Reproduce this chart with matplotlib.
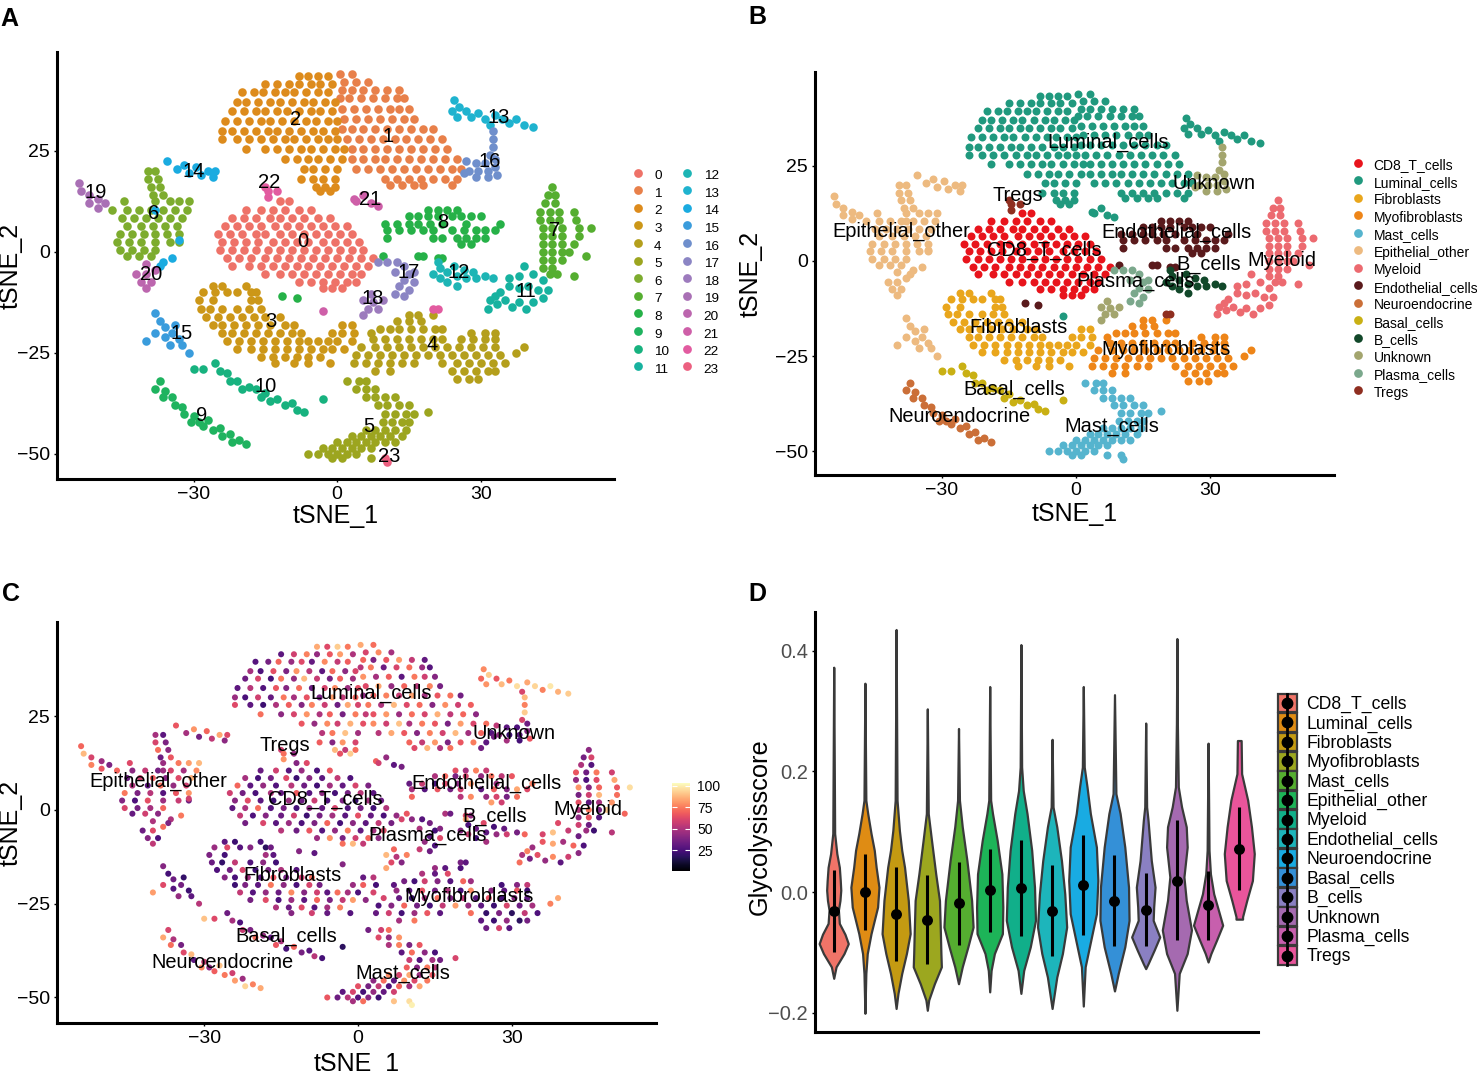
#!/usr/bin/env python3
"""tSNE panels (clusters, cell types, glycolysis score) and glycolysis violins."""
import numpy as np
import matplotlib
matplotlib.use("Agg")
import matplotlib.pyplot as plt
from matplotlib.legend_handler import HandlerBase
from matplotlib.lines import Line2D
from matplotlib.patches import Patch, Rectangle

plt.rcParams['font.family'] = ['Liberation Sans', 'DejaVu Sans']

W, H = 1477, 1074

# cells, one list per cluster, as x, y, score
cl_0 = [-12,12.5,40, -10,12.5,62,
    -19,10.5,33, -16,10.5,58, -13.5,10.5,28, -11,10.5,45, -8,10.5,25, -5.5,10.5,66,
    -22,8.5,48, -19.5,8.5,24, -17,8.5,36, -14,8.5,62, -12,8.5,22, -9.5,8.5,41, -7,8.5,30, -4,8.5,55, -1.5,8.5,26,
    -23.5,6.5,70, -21,6.5,30, -18.5,6.5,44, -16,6.5,27, -13,6.5,52, -10.5,6.5,34, -8,6.5,23, -5.5,6.5,47, -3,6.5,31, -0.5,6.5,60, 2,6.5,38,
    -25,4.5,58, -22.5,4.5,35, -20,4.5,25, -17,4.5,50, -15,4.5,32, -12,4.5,68, -9.5,4.5,28, -7,4.5,42, -4.5,4.5,24, -2,4.5,36, 0.5,4.5,53, 3,4.5,29,
    -24,2.5,41, -21.5,2.5,63, -19,2.5,30, -16.5,2.5,22, -13.5,2.5,46, -11,2.5,34, -8.5,2.5,57, -6,2.5,26, -3,2.5,38, -0.5,2.5,21, 2,2.5,48, 4.5,2.5,33,
    -24.5,0.5,30, -22,0.5,49, -19.5,0.5,72, -17,0.5,28, -14.5,0.5,37, -12,0.5,24, -9.5,0.5,43, -7,0.5,31, -4.5,0.5,60, -2,0.5,27, 0.5,0.5,35, 3,0.5,23, 5.5,0.5,51,
    -23,-1.5,55, -20.5,-1.5,26, -18,-1.5,40, -15,-1.5,33, -12.5,-1.5,58, -10,-1.5,22, -7.5,-1.5,36, -5,-1.5,47, -2.5,-1.5,29, 0,-1.5,64, 2.5,-1.5,32, 5,-1.5,25, 7.5,-1.5,44,
    -22,-3.5,35, -18.5,-3.5,61, -16,-3.5,29, -13.5,-3.5,45, -11,-3.5,26, -8.5,-3.5,38, -6,-3.5,70, -3.5,-3.5,24, -1,-3.5,41, 1.5,-3.5,30, 4,-3.5,55, 6.5,-3.5,36,
    -15,-5.5,52, -12,-5.5,34, -9.5,-5.5,66, -7,-5.5,28, -4.5,-5.5,43, -2,-5.5,75, 0.5,-5.5,31, 3,-5.5,48, 5,-5.5,63,
    -8,-7.5,46, -5.5,-7.5,80, -3,-7.5,37, -0.5,-7.5,58, 2,-7.5,70, 4,-7.5,42,
    -3,-9,72, -1,-9,88, 1,-9,55]
cl_1 = [0.5,44,85, 3,44,72,
    1.5,42,60, 4,42,78, 6.5,42,48,
    1,40,70, 3,40,38, 5.5,40,66, 8,40,82, 10.5,40,55, 13,40,31,
    0.5,38,52, 2.5,38,75, 5,38,34, 7.5,38,60, 10,38,72, 12.5,38,45, 14,38,28,
    1,35.5,80, 3.5,35.5,48, 6,35.5,68, 8.5,35.5,30, 11,35.5,74, 13,35.5,58, 15,35.5,40,
    1.5,33,62, 4,33,84, 6.5,33,44, 9,33,70, 11.5,33,52, 14,33,77, 16,33,36,
    1,30.5,42, 3,30.5,69, 5.5,30.5,76, 8,30.5,56, 10.5,30.5,83, 13,30.5,47, 15.5,30.5,66, 18,30.5,73, 20,30.5,35,
    2,28,74, 4.5,28,50, 7,28,88, 9.5,28,62, 12,28,71, 14.5,28,40, 17,28,79, 19.5,28,58, 22,28,68,
    3,25.5,65, 5.5,25.5,81, 8,25.5,46, 10.5,25.5,72, 13,25.5,60, 15.5,25.5,86, 18,25.5,54, 20.5,25.5,70, 23,25.5,42,
    3,23,78, 5.5,23,58, 8,23,90, 10,23,49, 12.5,23,75, 15,23,66, 17.5,23,37, 20,23,82, 22.5,23,61, 25,23,72,
    4,20.5,52, 6.5,20.5,84, 9,20.5,67, 11.5,20.5,40, 14,20.5,76, 16.5,20.5,59, 19,20.5,88, 21.5,20.5,47, 24,20.5,70, 26,20.5,28,
    10,18,70, 12.5,18,55, 15,18,81, 17.5,18,38, 20,18,66, 22.5,18,75, 25,18,30,
    11,16.5,62, 13.5,16.5,87, 16,16.5,50, 18,16.5,73, 24,16.5,35]
cl_2 = [-8,43.5,85, -6,43.5,62, -4,43.5,92, -2,43.5,74,
    -15,41.5,30, -12.5,41.5,58, -10,41.5,76, -8,41.5,44, -5.5,41.5,66, -3.5,41.5,82, -1,41.5,50,
    -20,39.5,28, -17.5,39.5,36, -15.5,39.5,70, -13,39.5,45, -11,39.5,62, -9,39.5,32, -6.5,39.5,78, -4,39.5,55, -2,39.5,68,
    -21,37,48, -19,37,26, -16.5,37,64, -14,37,38, -12,37,80, -9.5,37,52, -7,37,30, -5,37,71, -2.5,37,42, -0.5,37,60,
    -22,35,34, -19.5,35,61, -17,35,24, -15,35,74, -12.5,35,44, -10.5,35,88, -8,35,56, -5.5,35,36, -3.5,35,69, -1,35,47,
    -23.5,32.5,30, -21,32.5,52, -18.5,32.5,27, -16,32.5,66, -14,32.5,40, -11.5,32.5,72, -9,32.5,33, -6.5,32.5,60, -4.5,32.5,78, -2,32.5,46, 0,32.5,64,
    -24,30,45, -22,30,25, -19.5,30,58, -17,30,32, -14.5,30,74, -12.5,30,48, -10,30,65, -7.5,30,37, -5,30,82, -3,30,54, -0.5,30,70,
    -24,28,62, -21,28,30, -18.5,28,22, -16,28,50, -13.5,28,68, -11,28,40, -9,28,76, -6.5,28,57, -4,28,34, -2,28,84, 0,28,60,
    -19,25.5,72, -15,25.5,42, -12.5,25.5,60, -10,25.5,80, -7.5,25.5,50, -5.5,25.5,69, -3,25.5,36, -0.5,25.5,75, 1.5,25.5,55,
    -11,23,66, -8.5,23,44, -6,23,78, -4,23,58, -1.5,23,86, 1,23,64,
    -7,20.5,52, -5,20.5,74, -2.5,20.5,90, 0,20.5,47,
    -7.5,18,68, -5,18,40, -3,18,80, -0.5,18,60,
    -4.5,16,88, -2.5,16,55, -0.5,16,72,
    -3.5,15,65, -1.5,15,92]
cl_3 = [-26,-8.5,30, -24,-8.5,22, -19,-8.5,25,
    -28,-10,45, -25.5,-10,62, -23,-10,28, -21,-10,40, -18,-10,18, -17,-10,34,
    -29,-12,38, -26,-12,24, -18,-12,48, -16.5,-12,30,
    -28.5,-14,33, -26.5,-14,20, -24,-14,55, -21,-14,27, -18.5,-14,42, -16,-14,23,
    -27.5,-16,26, -25,-16,35, -22.5,-16,60, -20,-16,22, -17.5,-16,38, -15,-16,50, -12,-16,28,
    -26,-18,40, -24,-18,25, -21.5,-18,47, -19,-18,30, -16.5,-18,66, -14,-18,35, -11,-18,58, -9,-18,72, 1,-18,32, 3,-18,52,
    -24,-20,22, -22,-20,38, -19.5,-20,30, -17,-20,74, -14.5,-20,42, -12,-20,25, -9.5,-20,60, -7.5,-20,35, -1,-20,45, 1,-20,68, 3.5,-20,24,
    -23,-22,55, -20.5,-22,28, -18,-22,44, -15.5,-22,33, -13,-22,78, -10.5,-22,40, -8,-22,58, -6,-22,30, -4,-22,72, -2,-22,48, 0,-22,26, 3,-22,60,
    -21,-24,36, -18,-24,63, -15.5,-24,26, -13,-24,45, -10.5,-24,30, -8,-24,70, -5.5,-24,38, -3,-24,55, -1,-24,82, 1.5,-24,42,
    -16,-26,50, -13.5,-26,33, -11,-26,62, -8.5,-26,28, -6,-26,48, -3.5,-26,76,
    -13,-27.5,40, -9,-27.5,58, -6,-27.5,32, -1.5,-27.5,28]
cl_4 = [15,-15.5,45, 17,-15.5,30, 20,-15.5,26,
    12.5,-17,50, 15,-17,32, 17.5,-17,62,
    9,-19,36, 11,-19,24, 13,-19,58, 15.5,-19,40, 18,-19,28, 20.5,-19,70, 22,-19,46,
    7,-20,30, 28,-20,24, 31,-20,40, 33,-20,55,
    7.5,-21.5,44, 10,-21.5,28, 12.5,-21.5,65, 15,-21.5,35, 17.5,-21.5,50, 20,-21.5,25, 22,-21.5,78, 26,-21.5,42, 28.5,-21.5,30, 31,-21.5,66, 33,-21.5,22,
    5,-23.5,60, 8,-23.5,32, 10.5,-23.5,20, 13,-23.5,48, 15.5,-23.5,72, 18,-23.5,38, 20.5,-23.5,54, 23,-23.5,28, 25.5,-23.5,64, 28,-23.5,24, 30.5,-23.5,40, 33,-23.5,30,
    4,-25.5,26, 6.5,-25.5,40, 9,-25.5,70, 11.5,-25.5,35, 14,-25.5,24, 16.5,-25.5,55, 19,-25.5,82, 21.5,-25.5,44, 24,-25.5,30, 26.5,-25.5,22, 29,-25.5,60, 31.5,-25.5,34, 34,-25.5,48,
    3.5,-27.5,32, 6,-27.5,58, 8.5,-27.5,24, 11,-27.5,46, 13.5,-27.5,66, 16,-27.5,30, 22,-27.5,72, 25,-27.5,20, 27.5,-27.5,38, 30,-27.5,18, 32.5,-27.5,55, 35,-27.5,26,
    8,-29.5,48, 11,-29.5,74, 24,-29.5,30, 26.5,-29.5,22, 29,-29.5,44, 31.5,-29.5,18, 33,-29.5,36,
    25,-31.5,34, 27.5,-31.5,60, 29.5,-31.5,28,
    39,-23.5,84, 37.5,-25,76]
cl_5 = [2,-32,35, 4.5,-32,58, 6,-32,72,
    4,-34,62, 6,-34,44, 8,-34,80,
    6,-36,50, 8,-36,76, 10,-36,38, 12,-36,66,
    8.5,-38,30, 10.5,-38,72, 13,-38,42, 15,-38,25,
    10,-40,56, 12,-40,28, 14.5,-40,48, 16,-40,35,
    9.5,-42,68, 11.5,-42,40, 13.5,-42,74, 15,-42,52,
    6,-44,78, 8,-44,60, 10,-44,85, 12,-44,46, 14.5,-44,66,
    3,-45.5,42, 5,-45.5,72, 7,-45.5,30, 9,-45.5,80, 11,-45.5,62, 13.5,-45.5,74,
    0,-47,64, 2,-47,36, 4,-47,55, 6,-47,26, 8,-47,70, 10,-47,48, 12,-47,84,
    -3,-48.5,30, -1,-48.5,60, 1,-48.5,24, 3,-48.5,44, 5,-48.5,32, 7,-48.5,58,
    -6,-50,66, -4,-50,34, -2,-50,52, 0,-50,28, 2,-50,40, 4,-50,22,
    -1,-51,48, 1,-51,72,
    7,-51,90, 19,-39.5,60]
cl_6 = [-39.5,20,48, -38,20,30,
    -39.5,18,60, -37.5,18,38,
    -39,16,72, -37,16,42,
    -38.5,14,34, -36.5,14,66,
    -44.5,12.5,62, -38,12.5,45, -35,12.5,74, -33,12.5,82, -31,12.5,88,
    -47,10.5,70, -44,10.5,42, -41.5,10.5,55, -39,10.5,36, -36.5,10.5,60, -34,10.5,48, -31.5,10.5,78,
    -45,8.5,34, -42.5,8.5,58, -40,8.5,68, -37.5,8.5,40, -35,8.5,62, -32.5,8.5,86,
    -44,6.5,50, -41,6.5,30, -38.5,6.5,72, -36,6.5,44, -33.5,6.5,58,
    -45.5,4.5,74, -43,4.5,38, -40.5,4.5,52, -38,4.5,28, -35.5,4.5,66, -33,4.5,80,
    -46,2.5,40, -43.5,2.5,26, -41,2.5,64, -38,2.5,46, -35,2.5,56, -33,2.5,34,
    -45.5,0.5,60, -43,0.5,36, -40.5,0.5,48, -38,0.5,70,
    -44,-1,32, -41.5,-1,58, -39,-1,42]
cl_7 = [45,16,42,
    44,14,36, 45.5,14,60,
    43.5,12,50, 45.5,12,28,
    42.5,10,66, 44.5,10,34, 46.5,10,74, 49.5,10,58,
    42.5,8,44, 44.5,8,26, 46.5,8,62, 50,8,84,
    43,6,80, 45,6,40, 47,6,70, 50.5,6,66,
    43,4,36, 45,4,58, 47,4,88, 50.5,4,72,
    43,2,64, 45,2,30, 47,2,48, 49.5,2,80,
    43,0,50, 45,0,74, 47,0,38, 48.5,0,92,
    43,-2,42, 45,-2,66, 47,-2,28,
    43,-4,58, 45,-4,34,
    44.5,-5.5,46, 46,-5.5,22,
    53,6,96, 52,-1,70, 49.5,-6,52]
cl_8 = [19,10.5,64, 21,10.5,48, 23,10.5,76, 25,10.5,56,
    15,9,50, 17,9,70, 19,9,38, 21,9,60, 24,9,44, 26,9,72, 28,9,54, 30,9,66,
    10,7,32, 12.5,7,56, 15,7,24, 17,7,62, 19.5,7,42, 22,7,80, 27,7,46, 34,7,74,
    10.5,5.5,48, 13,5.5,28, 15.5,5.5,66, 18,5.5,36, 20,5.5,58, 24,5.5,30, 26.5,5.5,68, 29,5.5,40, 31,5.5,84, 33,5.5,62,
    10.5,3.5,70, 20,3.5,52, 22,3.5,78, 25,3.5,44, 27,3.5,60, 29,3.5,36, 31,3.5,72,
    26,2,82, 28,2,58,
    9.5,-1,66, 17,-1,50, 18,-1,34,
    21,-1.5,62, 22,-1.5,44,
    -11.5,-11,40, -8.5,-11.5,30]
cl_9 = [-37,-32,60, -38,-34,84, -36,-34.5,50, -36.5,-36,72, -34.5,-36,36, -34,-38,62, -32.5,-38.5,88, -32,-40,30,
    -30,-40.5,56, -30.5,-42,78, -29,-42,42, -28,-43,68, -27,-41.5,90, -26,-44,74, -24.5,-43.5,58, -24,-45.5,82,
    -22.5,-45,46, -22,-47,94, -20.5,-46.5,76, -19,-47.5,85]
cl_10 = [-30,-29,90, -28,-29,62, -25.5,-27.5,34, -24.5,-29.5,48, -23,-30,26, -22.5,-32,56, -21,-32,38, -20,-34,72, -18.5,-33.5,44,
    -17,-34,30, -16,-36,66, -15,-35,50, -14,-37,24, -12.5,-36.5,70, -11,-38,36, -9.5,-37.5,28, -8.5,-39,52, -7,-39.5,24, -3,-36.5,18]
cl_11 = [31.5,-14,72, 32,-12,50, 33.5,-13,36, 35,-12,64, 36.5,-13.5,44, 38,-12.5,78, 39.5,-14,30, 41,-12.5,58, 43,-11.5,42, 44,-9.5,26,
    42,-9.5,70, 40,-8.5,48, 38,-9,84, 36,-8.5,66, 43,-7,34, 41,-5.5,56, 38,-6,90, 36,-6.5,60, 34,-10,46, 33,-11,76, 39,-3.5,62]
cl_12 = [20,-5.5,40, 21.5,-4,26, 21.5,-6.5,56, 23,-5,34, 23,-7.5,22, 24.5,-3.5,62, 25,-6,30, 25,-8.5,48, 26.5,-4.5,24,
    27,-6.5,44, 28.5,-5,32, 29,-6.5,58, 31,-6,36, 32.5,-6.5,70, 21,-2.5,84]
cl_13 = [24,35,70, 25.5,36,92, 25,33.5,80, 27,35,66, 28,33.5,88, 29.5,34.5,74, 31,33,96, 32,31.5,60,
    33,34,84, 34.5,33,94, 36,32,76, 37.5,33,98, 39,31.5,86, 41,31,92, 24.5,37.5,78]
cl_14 = [-35.5,22.5,66, -33.5,20.5,48, -32,21.5,80, -31,19.5,36, -29.5,21,70, -28.5,19,54, -27,20,84, -26,18.5,42, -25.5,20,62,
    -36.5,-2.5,50, -34.5,-1.5,74, -37,-3.5,38, -38,10.5,46, -33,3,58]
cl_15 = [-38,-15,40, -37,-17,24, -36,-18.5,34, -34,-18,20, -38,-20,62, -40,-22,82, -36,-21,28, -34.5,-20,36, -33,-21.5,22, -35,-23,44, -32.5,-23,30, -31,-25,52]
cl_16 = [32.5,30,88, 32.5,28,76, 32.5,26,92, 32,24,60, 33,23,34, 27,22.5,54, 29,22,30, 31,22,26, 33,21,40,
    27.5,20,44, 29.5,20,22, 31.5,20,28, 33.5,19,66, 26.5,19.5,36, 29,18.5,48, 31.5,18.5,24]
cl_17 = [8.5,-2.5,60, 10.5,-2.5,42, 12.5,-2.5,28, 14,-3.5,36, 15,-5.5,24, 12,-5,50, 14,-7,30, 16,-7.5,62, 13,-8.5,44, 15,-9.5,26, 14,-11,34, 12,-10.5,56, 16,-5,40]
cl_18 = [7,-10.5,70, 5.5,-12,88, 7.5,-12.5,52, 9.5,-12,76, 6.5,-14,62, 8.5,-14,40, 5.5,-15.5,84]
cl_19 = [-54,17,70, -53.5,15,88, -52,14,60, -52,12,76, -50,13,46, -50,11,66, -48.5,12,38]
cl_20 = [-40,-3,50, -42,-5.5,34, -40,-5.5,62, -38,-4.5,72, -41,-7.5,40, -39,-7.5,26, -40,-9,54]
cl_21 = [3.5,13,68, 5.5,14,44, 7,12,30, 8.5,11.5,36, 4,12.5,58, -3,-14.5,40]
cl_22 = [-15,16,58, -14.5,15,72, -12.5,15,44, -14.5,13.5,80, 20,-14,36, 21,-14,30]
cl_23 = [10,-51,96, 10.5,-52,100]
clusters = [cl_0, cl_1, cl_2, cl_3, cl_4, cl_5, cl_6, cl_7, cl_8, cl_9, cl_10, cl_11,
            cl_12, cl_13, cl_14, cl_15, cl_16, cl_17, cl_18, cl_19, cl_20, cl_21, cl_22, cl_23]

cluster_colors = ['#EE7268', '#E8804A', '#DD8B1C', '#CC9718', '#B49F1C', '#9CA51F',
                  '#7DAC2E', '#55AE30', '#26B148', '#1FB35F', '#17B27F', '#17B29F',
                  '#1DB5B5', '#1FB3CF', '#1AABE0', '#3A9CDC', '#6F8FCC', '#8B85C4',
                  '#9D7BBD', '#A970B5', '#BC66AE', '#CE5FA8', '#E25BA0', '#EC6080']
cluster_label_x = [-7.1, 10.7, -8.8, -13.8, 19.9, 6.7, -38.3, 45.4, 22, -28.3, -14.9, 39.5,
                   25.5, 33.7, -30.1, -32.6, 32, 14.9, 7.5, -50.6, -38.9, 6.9, -14.2, 10.9]
cluster_label_y = [2.7, 28.5, 32.9, -17.3, -23, -43.3, 9.4, 5.4, 7.2, -40.6, -33.4, -9.7,
                   -5, 33.4, 20, -20.3, 22.3, -5.2, -11.4, 14.6, -5.7, 12.9, 17.1, -50.7]

cell_types = ['CD8_T_cells', 'Luminal_cells', 'Fibroblasts', 'Myofibroblasts', 'Mast_cells',
              'Epithelial_other', 'Myeloid', 'Endothelial_cells', 'Neuroendocrine', 'Basal_cells',
              'B_cells', 'Unknown', 'Plasma_cells', 'Tregs']
type_colors = ['#E8141C', '#20997E', '#E9A61C', '#EE8518', '#55B4CE', '#EDBA80', '#EC6A70',
               '#5A1A1C', '#CB6F38', '#C9B014', '#12482A', '#A3A56E', '#7BA88C', '#8F2E20']
# cell type index of each cluster
cluster_type = [0, 1, 1, 2, 3, 4, 5, 6, 7, 8, 9, 6, 10, 1, 5, 5, 11, 12, 11, 5, 5, 1, 13, 4]
type_label_x_b = [-7.1, 7.1, -12.9, 20.1, 8, -39.1, 46, 22.5, -26.1, -13.8, 29.7, 30.8, 13.4, -12.9]
type_label_y_b = [2.9, 31.1, -17.4, -23.2, -43.4, 7.9, 0, 7.4, -40.8, -33.7, -1, 20.5, -5.5, 17.1]
type_label_x_c = [-6.4, 2.5, -12.7, 21.6, 8.8, -39, 44.8, 25.1, -26.5, -14, 26.7, 30.4, 13.5, -14.2]
type_label_y_c = [2.7, 31.2, -17.6, -23.2, -43.7, 7.7, 0, 7.2, -40.8, -33.6, -1.6, 20.5, -6.9, 17.1]

vln_colors = ['#F07468', '#DF8C14', '#C49A12', '#9CA71F', '#55AE30', '#1DB458', '#11AF8A',
              '#1DB5BB', '#19ABE2', '#3490D7', '#8A80C2', '#A56AB0', '#C75FAD', '#E9559B']
vln_1_y = [.3725, .097, .0635, .041, .019, .003, -.014, -.03, -.052, -.07, -.0855, -.102, -.124, -.143]
vln_1_w = [0, .03, .1, .18, .21, .226, .2, .15, .18, .36, .467, .33, .075, 0]
vln_2_y = [.346, .152, .13, .097, .069, .041, .008, -.025, -.069, -.102, -.135, -.201]
vln_2_w = [0, .03, .09, .196, .3, .36, .45, .406, .196, .075, .03, 0]
vln_3_y = [.435, .152, .102, .069, .041, -.014, -.069, -.102, -.135, -.168, -.193]
vln_3_w = [0, .03, .105, .18, .27, .39, .45, .33, .18, .06, 0]
vln_4_y = [.3035, .13, .0855, .03, -.014, -.069, -.102, -.124, -.152, -.179, -.196]
vln_4_w = [0, .03, .135, .27, .39, .42, .436, .45, .226, .045, 0]
vln_5_y = [.271, .152, .108, .052, -.014, -.058, -.091, -.124, -.152]
vln_5_w = [0, .03, .12, .27, .42, .467, .3, .12, 0]
vln_6_y = [.3405, .152, .13, .0855, .03, -.025, -.069, -.102, -.13, -.1655]
vln_6_w = [0, .03, .09, .24, .39, .42, .406, .15, .045, 0]
vln_7_y = [.41, .207, .168, .13, .069, .008, -.047, -.091, -.13, -.168]
vln_7_w = [0, .023, .075, .196, .346, .436, .467, .3, .09, 0]
vln_8_y = [.253, .141, .108, .052, -.003, -.058, -.102, -.141, -.193]
vln_8_w = [0, .03, .15, .3, .406, .467, .33, .15, 0]
vln_9_y = [.3405, .207, .174, .13, .0745, .019, -.036, -.08, -.124, -.189]
vln_9_w = [0, .03, .12, .226, .42, .467, .42, .24, .06, 0]
vln_10_y = [.327, .163, .13, .0745, .008, -.047, -.091, -.135, -.164]
vln_10_w = [0, .045, .18, .33, .45, .467, .33, .12, 0]
vln_11_y = [.28, .141, .119, .052, .008, -.025, -.047, -.0745, -.0965, -.119, -.127]
vln_11_w = [0, .03, .075, .18, .3, .256, .24, .45, .27, .075, 0]
vln_12_y = [.42, .28, .174, .141, .108, .0745, .025, -.014, -.063, -.102, -.135, -.196]
vln_12_w = [0, .015, .045, .15, .3, .33, .226, .3, .467, .33, .075, 0]
vln_13_y = [.2467, .069, .03, -.003, -.03, -.055, -.08, -.102, -.116]
vln_13_w = [0, .03, .075, .18, .33, .467, .27, .09, 0]
vln_14_y = [.251, .196, .152, .108, .0635, .019, -.014, -.041, -.045]
vln_14_w = [.06, .075, .27, .39, .48, .42, .24, .105, .105]
vln_ys = [vln_1_y, vln_2_y, vln_3_y, vln_4_y, vln_5_y, vln_6_y, vln_7_y, vln_8_y, vln_9_y,
          vln_10_y, vln_11_y, vln_12_y, vln_13_y, vln_14_y]
vln_ws = [vln_1_w, vln_2_w, vln_3_w, vln_4_w, vln_5_w, vln_6_w, vln_7_w, vln_8_w, vln_9_w,
          vln_10_w, vln_11_w, vln_12_w, vln_13_w, vln_14_w]
vln_median = [-.031, 0, -.037, -.046, -.019, .003, .006, -.031, .012, -.015, -.029, .019, -.022, .072]
vln_low = [-.099, -.063, -.115, -.12, -.087, -.066, -.073, -.106, -.071, -.09, -.09, -.08, -.079, .004]
vln_high = [.037, .063, .041, .029, .049, .072, .086, .045, .095, .061, .031, .119, .035, .141]


def px_axes(left, right, top, bottom):
    """Axes placed by its pixel edges in the 1477x1074 picture"""
    return fig.add_axes([left / W, 1 - bottom / H, (right - left) / W, (bottom - top) / H])


def style_axes(ax, xlim, ylim, lw=2.2):
    ax.set_xlim(*xlim)
    ax.set_ylim(*ylim)
    ax.spines[['top', 'right']].set_visible(False)
    ax.spines[['left', 'bottom']].set_linewidth(lw)
    ax.tick_params(length=2.5, width=1, labelsize=14, pad=2.5)


def tsne_axes(ax, xlim, ylim, xlab_y, ylab_x):
    style_axes(ax, xlim, ylim)
    ax.set_xticks([-30, 0, 30])
    ax.set_yticks([-50, -25, 0, 25])
    ax.set_xlabel('tSNE_1', fontsize=18)
    ax.set_ylabel('tSNE_2', fontsize=18)
    ax.xaxis.set_label_coords(0.5, xlab_y)
    ax.yaxis.set_label_coords(ylab_x, 0.5)


def dot_legend(labels, colors, px, py, ncol, fs, row_h, textpad, colspacing=0.8):
    handles = [Line2D([], [], ls='', marker='o', ms=6.3, mfc=c, mec='none') for c in colors]
    fig.legend(handles, labels, loc='upper left', bbox_to_anchor=(px / W, 1 - py / H),
               bbox_transform=fig.transFigure, frameon=False, fontsize=fs, ncol=ncol,
               borderpad=0, borderaxespad=0, handlelength=1, handleheight=row_h, handletextpad=textpad,
               labelspacing=0, columnspacing=colspacing)


class ViolinKey(HandlerBase):
    """Legend key of the violin panel: filled box with the black bar and dot"""
    def create_artists(self, legend, orig_handle, xdescent, ydescent, width, height, fontsize, trans):
        cx, cy = width / 2 - xdescent, height / 2 - ydescent
        box = Rectangle((-xdescent, -ydescent), width, height, facecolor=orig_handle.get_facecolor(),
                        edgecolor='#3A3A3A', linewidth=1.6, transform=trans)
        bar = Line2D([cx, cx], [-ydescent, height - ydescent], color='black', lw=2, transform=trans)
        dot = Line2D([cx], [cy], ls='', marker='o', ms=7.5, color='black', transform=trans)
        return [box, bar, dot]


fig = plt.figure(figsize=(W / 100, H / 100), dpi=100, facecolor='white')
cells = [np.array(c).reshape(-1, 3) for c in clusters]

# A: clusters
ax_a = px_axes(57, 614, 52, 479)
for c, color in zip(cells, cluster_colors):
    ax_a.scatter(c[:, 0], c[:, 1], s=38, color=color, linewidths=0)
for i, (x, y) in enumerate(zip(cluster_label_x, cluster_label_y)):
    ax_a.text(x, y, str(i), fontsize=14.5, ha='center', va='center')
tsne_axes(ax_a, (-58.6, 57.9), (-56.2, 49.5), -0.059, -0.061)
dot_legend([str(i) for i in range(24)], cluster_colors, 631, 166, 2, 9.7, 1.634, 0.72, 0.85)

# B: cell types
ax_b = px_axes(815, 1334, 72, 475)
for c, k in zip(cells, cluster_type):
    ax_b.scatter(c[:, 0], c[:, 1], s=33, color=type_colors[k], linewidths=0)
for name, x, y in zip(cell_types, type_label_x_b, type_label_y_b):
    ax_b.text(x, y, name, fontsize=14.4, ha='center', va='center')
tsne_axes(ax_b, (-58.3, 57.6), (-56.3, 49.7), -0.068, -0.1)
dot_legend(cell_types, type_colors, 1351, 156, 1, 10, 1.561, 0.62)

# C: score on the same cells
ax_c = px_axes(57, 656, 622, 1023)
all_cells = np.vstack(cells)
score_points = ax_c.scatter(all_cells[:, 0], all_cells[:, 1], c=all_cells[:, 2], s=19, cmap='magma',
                            vmin=1, vmax=103, linewidths=0)
for name, x, y in zip(cell_types, type_label_x_c, type_label_y_c):
    ax_c.text(x, y, name, fontsize=14.4, ha='center', va='center')
tsne_axes(ax_c, (-58.7, 58.1), (-56.8, 50.1), -0.073, -0.057)
cax = px_axes(672, 690, 783, 871)
cbar = fig.colorbar(score_points, cax=cax)
cbar.set_ticks([25, 50, 75, 100])
cbar.outline.set_visible(False)
cax.tick_params(direction='in', length=3.5, width=0.8, color='white', labelsize=10, pad=5, right=True, left=True)

# D: violins
ax_d = px_axes(815, 1258, 612, 1032)
for i, (ys, ws, color) in enumerate(zip(vln_ys, vln_ws, vln_colors), start=1):
    ys, ws = np.array(ys), np.array(ws)
    ax_d.fill_betweenx(ys, i - ws, i + ws, facecolor=color, edgecolor='#3A3A3A', linewidth=1.6, joinstyle='round')
positions = np.arange(1, 15)
ax_d.vlines(positions, vln_low, vln_high, color='black', lw=2.2, zorder=3)
ax_d.scatter(positions, vln_median, s=62, color='black', zorder=4, linewidths=0)
style_axes(ax_d, (0.4, 14.6), (-0.232, 0.464))
ax_d.set_xticks([])
ax_d.set_yticks([-0.2, 0, 0.2, 0.4], ['\u22120.2', '0.0', '0.2', '0.4'])
ax_d.tick_params(axis='y', labelcolor='#4D4D4D', labelsize=14.5)
ax_d.set_ylabel('Glycolysisscore', fontsize=18.3)
ax_d.yaxis.set_label_coords(-0.097, 0.488)
key_handles = [Patch(facecolor=c) for c in vln_colors]
fig.legend(key_handles, cell_types, loc='upper left', bbox_to_anchor=(1278 / W, 1 - 693.5 / H),
           bbox_transform=fig.transFigure, frameon=False, fontsize=12.7, borderpad=0, borderaxespad=0,
           handlelength=1.05, handleheight=1.262, handletextpad=0.56, labelspacing=0,
           handler_map={Patch: ViolinKey()})

for letter, px, py in zip('ABCD', [9, 757, 11, 757], [19, 17, 594, 594]):
    fig.text(px / W, 1 - py / H, letter, fontsize=18, fontweight='bold', ha='center', va='center')

fig.savefig('out.png', dpi=100, facecolor='white')
